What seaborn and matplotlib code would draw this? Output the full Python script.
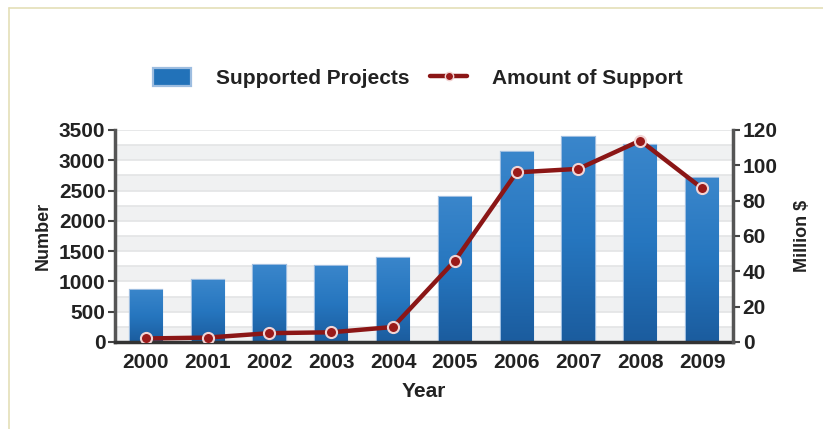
import numpy as np
import pandas as pd
import matplotlib
matplotlib.use("Agg")
import matplotlib.pyplot as plt
import seaborn as sns
from matplotlib.patches import Rectangle
from matplotlib.lines import Line2D
from matplotlib.colors import LinearSegmentedColormap

years = ["2000", "2001", "2002", "2003", "2004", "2005", "2006", "2007", "2008", "2009"]
projects = [860, 1020, 1270, 1255, 1390, 2390, 3130, 3385, 3260, 2700]
support_musd = [2, 2.5, 5, 5.5, 8.5, 46, 96, 98, 114, 87]

sns.set_theme(style="white")
plt.rcParams["font.family"] = ["Liberation Sans", "DejaVu Sans"]
plt.rcParams["font.weight"] = "bold"

FS = 15
TXT = "#222222"

df = pd.DataFrame({"Year": years, "Projects": projects, "Support": support_musd})

fig = plt.figure(figsize=(8.23, 4.29), dpi=100)
ax = fig.add_axes([0.1397, 0.2028, 0.7509, 0.4942])

sns.barplot(data=df, x="Year", y="Projects", color="#2272b9", width=0.52,
            edgecolor="#9dbde0", linewidth=1.6, ax=ax, zorder=2)
bars = list(ax.containers[0])

# vertical gradient fill for each bar
cmap = LinearSegmentedColormap.from_list("bar", ["#1b5c9e", "#2676bf", "#3a86cb"])
grad = np.linspace(0, 1, 256).reshape(-1, 1)
for p in bars:
    x0, y0 = p.get_x(), p.get_y()
    w, h = p.get_width(), p.get_height()
    im = ax.imshow(grad, extent=[x0, x0 + w, y0, y0 + h], origin="lower",
                   cmap=cmap, aspect="auto", zorder=2.1)
    im.set_clip_path(p)

# striped background: bands every 250 with thin rules
for k in range(14):
    lo = k * 250
    if k % 2 == 0:
        ax.axhspan(lo, lo + 250, color="#f0f1f2", zorder=0, lw=0)
    ax.axhline(lo + 250, color="#e3e4e5", lw=1.2, zorder=0.5)

ax.set_xlim(-0.5, len(years) - 0.5)
ax.set_ylim(0, 3500)
ax.set_yticks(np.arange(0, 3501, 500))
ax.set_yticklabels([str(v) for v in range(0, 3501, 500)], fontsize=FS, fontweight="bold", color=TXT)
ax.set_xticks(np.arange(len(years)))
ax.set_xticklabels(years, fontsize=FS, fontweight="bold", color=TXT)
ax.set_xticks(np.arange(len(years) + 1) - 0.5, minor=True)
ax.tick_params(axis="x", which="major", length=0, pad=8)
ax.tick_params(axis="x", which="minor", length=5, width=1.5, color="#444444", direction="out")
ax.tick_params(axis="y", length=5, width=1.5, color="#444444", direction="out", pad=2)
ax.set_xlabel("Year", fontsize=FS, fontweight="bold", color=TXT, labelpad=7)
ax.set_ylabel("Number", fontsize=13, fontweight="bold", color=TXT, labelpad=5)

for s in ["top", "right"]:
    ax.spines[s].set_visible(False)
ax.spines["left"].set_color("#555555")
ax.spines["left"].set_linewidth(2.5)
ax.spines["bottom"].set_color("#333333")
ax.spines["bottom"].set_linewidth(2.5)

ax2 = ax.twinx()
sns.lineplot(x=np.arange(len(years)), y=df["Support"], ax=ax2, color="#8b1616",
             linewidth=3.2, marker="o", markersize=8, markerfacecolor="#9a1a1a",
             markeredgecolor="#f2d4d4", markeredgewidth=1.5, zorder=5)
ax2.set_ylim(0, 120)
ax2.set_yticks(np.arange(0, 121, 20))
ax2.set_yticklabels([str(v) for v in range(0, 121, 20)], fontsize=FS, fontweight="bold", color=TXT)
ax2.tick_params(axis="y", length=5, width=1.5, color="#444444", direction="out", pad=2)
ax2.set_ylabel("Million $", fontsize=13, fontweight="bold", color=TXT, rotation=90, labelpad=12)
ax2.set_xlim(-0.5, len(years) - 0.5)
for s in ["top", "left", "bottom"]:
    ax2.spines[s].set_visible(False)
ax2.spines["right"].set_color("#555555")
ax2.spines["right"].set_linewidth(2.5)

handles = [
    Rectangle((0, 0), 1, 1, facecolor="#2272b9", edgecolor="#9dbde0", linewidth=1.6),
    Line2D([0], [0], color="#8b1616", lw=3.2, marker="o", markersize=6,
           markerfacecolor="#9a1a1a", markeredgecolor="#f2d4d4"),
]
fig.legend(handles, ["Supported Projects", "Amount of Support"], loc="center",
           bbox_to_anchor=(0.508, 0.818), ncol=2, frameon=False,
           prop={"size": FS, "weight": "bold"}, labelcolor=TXT,
           handlelength=1.8, handleheight=1.0, columnspacing=1.0, handletextpad=1.2)

# outer frame along the top and left edges
frame_color = "#e4dfb8"
fig.add_artist(Line2D([0.0105, 0.0105], [0.0, 0.981], transform=fig.transFigure, color=frame_color, lw=1.2))
fig.add_artist(Line2D([0.0105, 1.0], [0.981, 0.981], transform=fig.transFigure, color=frame_color, lw=1.2))

fig.savefig("out.png", dpi=100, facecolor="white")
